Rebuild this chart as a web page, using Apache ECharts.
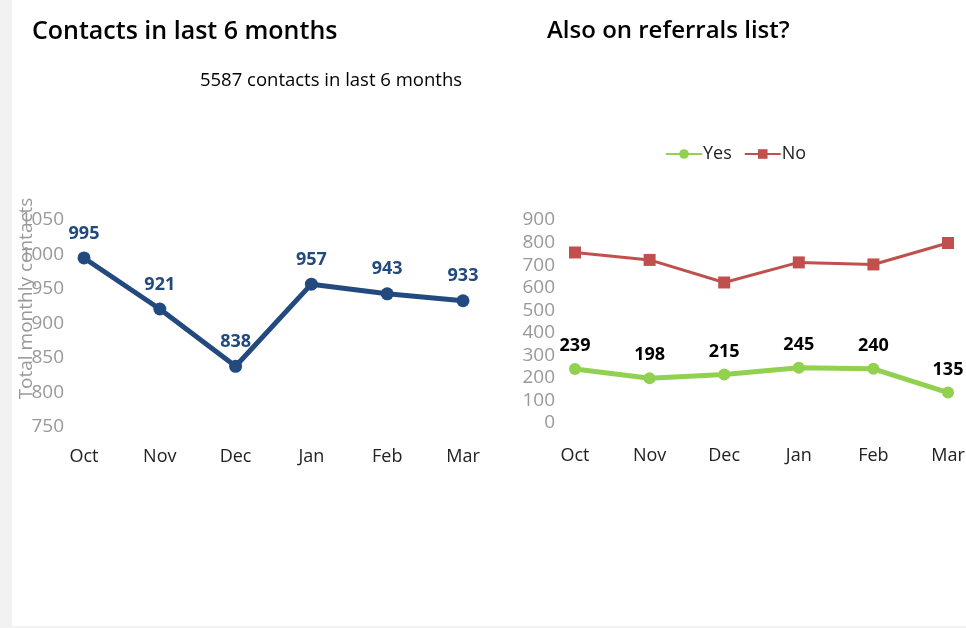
<!DOCTYPE html>
<html>
<head>
<meta charset="utf-8">
<script src="https://cdn.jsdelivr.net/npm/echarts@6/dist/echarts.min.js"></script>
<style>
  html, body { margin: 0; padding: 0; background: #f2f2f2; }
  #main { position: absolute; left: 12px; top: 0; width: 954px; height: 626px; background: #fff; }
</style>
</head>
<body>
<div id="main"></div>
<script>
const months = ['Oct', 'Nov', 'Dec', 'Jan', 'Feb', 'Mar'];
const totalContacts = [995, 921, 838, 957, 943, 933];
const referralYes = [239, 198, 215, 245, 240, 135];
const referralNo = [756, 723, 623, 712, 703, 798];

const font = '"Open Sans", "Noto Sans", sans-serif';
const chart = echarts.init(document.getElementById('main'));

// container starts at x=12, so grid positions are relative to that
const option = {
  backgroundColor: '#ffffff',
  textStyle: { fontFamily: font },
  title: [{
    text: 'Contacts in last 6 months',
    left: 15, top: 14,
    textStyle: { fontSize: 25, fontWeight: 600, color: '#000', fontFamily: font }
  }, {
    text: '5587 contacts in last 6 months',
    left: 314, top: 66, textAlign: 'center',
    textStyle: { fontSize: 18.5, fontWeight: 'normal', color: '#000', fontFamily: font }
  }, {
    text: 'Also on referrals list?',
    left: 530, top: 14,
    textStyle: { fontSize: 24, fontWeight: 600, color: '#000', fontFamily: font }
  }],
  legend: {
    data: ['Yes', 'No'],
    left: 648, top: 140,
    itemWidth: 36, itemHeight: 12, itemGap: 12,
    textStyle: { fontSize: 18, color: '#222', fontFamily: font, padding: [0, 0, 0, -4] }
  },
  grid: [
    { left: 72, top: 220, width: 379, height: 207, outerBoundsMode: 'none' },
    { left: 563, top: 220, width: 373, height: 203, outerBoundsMode: 'none' }
  ],
  xAxis: [0, 1].map(i => ({
    type: 'category', gridIndex: i, data: months, boundaryGap: false,
    axisLine: { show: false }, axisTick: { show: false },
    axisLabel: { color: '#222', fontSize: 18, margin: i ? 24 : 21, fontFamily: font }
  })),
  yAxis: [{
    type: 'value', gridIndex: 0, min: 750, max: 1050, interval: 50,
    name: 'Total monthly contacts', nameLocation: 'middle', nameGap: 48, nameMoveOverlap: false,
    nameTextStyle: { color: '#999', fontSize: 19, fontFamily: font, padding: [0, 0, 0, 50] },
    splitLine: { show: false }, axisLine: { show: false }, axisTick: { show: false },
    axisLabel: { color: '#999', fontSize: 19, margin: 20, fontFamily: font, formatter: v => String(v) }
  }, {
    type: 'value', gridIndex: 1, min: 0, max: 900, interval: 100,
    splitLine: { show: false }, axisLine: { show: false }, axisTick: { show: false },
    axisLabel: { color: '#999', fontSize: 19, margin: 20, fontFamily: font, formatter: v => String(v) }
  }],
  series: [{
    name: 'Total', type: 'line', xAxisIndex: 0, yAxisIndex: 0,
    data: totalContacts,
    symbol: 'circle', symbolSize: 13,
    lineStyle: { color: '#234a7e', width: 5 },
    itemStyle: { color: '#234a7e' },
    label: { show: true, position: 'top', distance: 9, color: '#234a7e', fontSize: 18, fontWeight: 'bold', fontFamily: font }
  }, {
    name: 'Yes', type: 'line', xAxisIndex: 1, yAxisIndex: 1,
    data: referralYes,
    symbol: 'circle', symbolSize: 12,
    lineStyle: { color: '#92d050', width: 5 },
    itemStyle: { color: '#92d050' },
    label: { show: true, position: 'top', distance: 8, color: '#000', fontSize: 18, fontWeight: 'bold', fontFamily: font }
  }, {
    name: 'No', type: 'line', xAxisIndex: 1, yAxisIndex: 1,
    data: referralNo,
    symbol: 'rect', symbolSize: 12,
    lineStyle: { color: '#c0504d', width: 3 },
    itemStyle: { color: '#c0504d' }
  }]
};
chart.setOption(option);
</script>
</body>
</html>
